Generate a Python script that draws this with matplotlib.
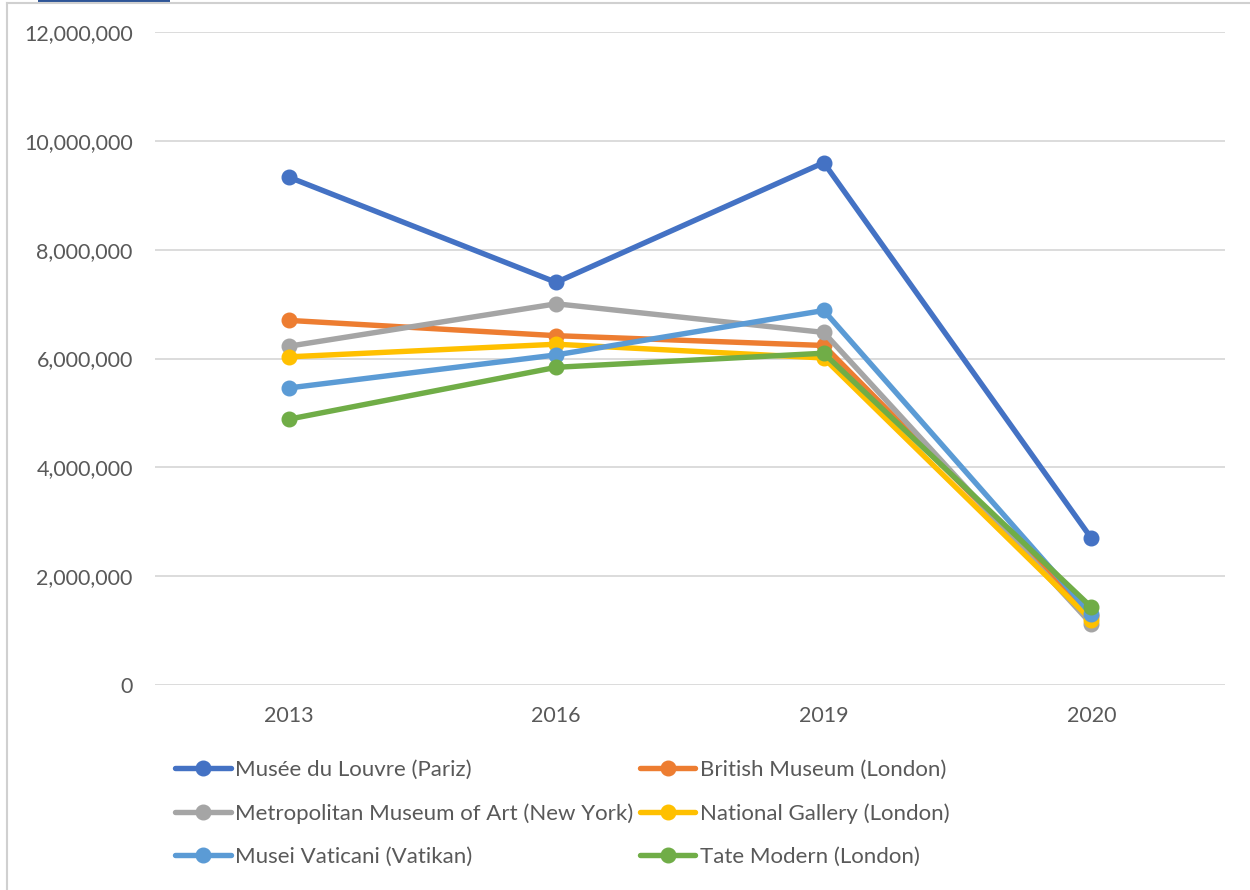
import numpy as np
import matplotlib.pyplot as plt
from matplotlib.ticker import FuncFormatter
from matplotlib.patches import Rectangle
from matplotlib.lines import Line2D

plt.rcParams['font.family'] = ['Lato', 'DejaVu Sans']

years = ['2013', '2016', '2019', '2020']
louvre = [9334000, 7400000, 9600000, 2700000]
british = [6701000, 6420000, 6240000, 1275000]
met = [6226000, 7006000, 6480000, 1124000]
national = [6031000, 6263000, 6010000, 1198000]
vatican = [5459000, 6067000, 6883000, 1300000]
tate = [4885000, 5839000, 6098000, 1432000]

names = ['Musée du Louvre (Pariz)', 'British Museum (London)',
         'Metropolitan Museum of Art (New York)', 'National Gallery (London)',
         'Musei Vaticani (Vatikan)', 'Tate Modern (London)']
series = [louvre, british, met, national, vatican, tate]
colors = ['#4472C4', '#ED7D31', '#A5A5A5', '#FFC000', '#5B9BD5', '#70AD47']

fs = 15.5

fig = plt.figure(figsize=(12.5, 8.9), dpi=100)
ax = fig.add_axes([0.124, 0.2303, 0.856, 0.7337])

x = np.arange(len(years))
lines = []
for name, vals, c in zip(names, series, colors):
    ln, = ax.plot(x, vals, color=c, lw=3.9, marker='o', ms=10.5, label=name,
                  solid_capstyle='round')
    lines.append(ln)

ax.set_xlim(-0.5, len(years) - 0.5)
ax.set_ylim(0, 12000000)
ax.set_yticks(np.arange(0, 12000001, 2000000))
ax.yaxis.set_major_formatter(FuncFormatter(lambda v, p: f'{int(v):,}'))
ax.set_xticks(x)
ax.set_xticklabels(years)
ax.grid(axis='y', color='#d9d9d9', lw=1.3)
ax.set_axisbelow(True)
for s in ax.spines.values():
    s.set_visible(False)
ax.tick_params(axis='both', length=0, labelsize=fs, labelcolor='#595959')
ax.tick_params(axis='y', pad=16)
ax.tick_params(axis='x', pad=15)

# legend: excel fills row-wise, matplotlib column-wise
order = [0, 2, 4, 1, 3, 5]
fig.legend([lines[i] for i in order], [names[i] for i in order],
           loc='upper left', bbox_to_anchor=(175 / 1250, 1 - 760 / 890),
           ncol=2, frameon=False, fontsize=16, labelcolor='#595959',
           handlelength=2.5, handletextpad=0.2, columnspacing=0.3,
           labelspacing=1.05, borderpad=0, borderaxespad=0)

# chart frame and the tab at the top
fig.add_artist(Line2D([7 / 1250, 7 / 1250], [0, 1 - 3 / 890], color='#d0d0d0', lw=1.5))
fig.add_artist(Line2D([7 / 1250, 1], [1 - 3 / 890, 1 - 3 / 890], color='#d0d0d0', lw=1.5))
fig.add_artist(Rectangle((38 / 1250, 1 - 4 / 890), 132 / 1250, 4 / 890,
                         color='#2E5597', lw=0))

fig.savefig('out.png', dpi=100)
